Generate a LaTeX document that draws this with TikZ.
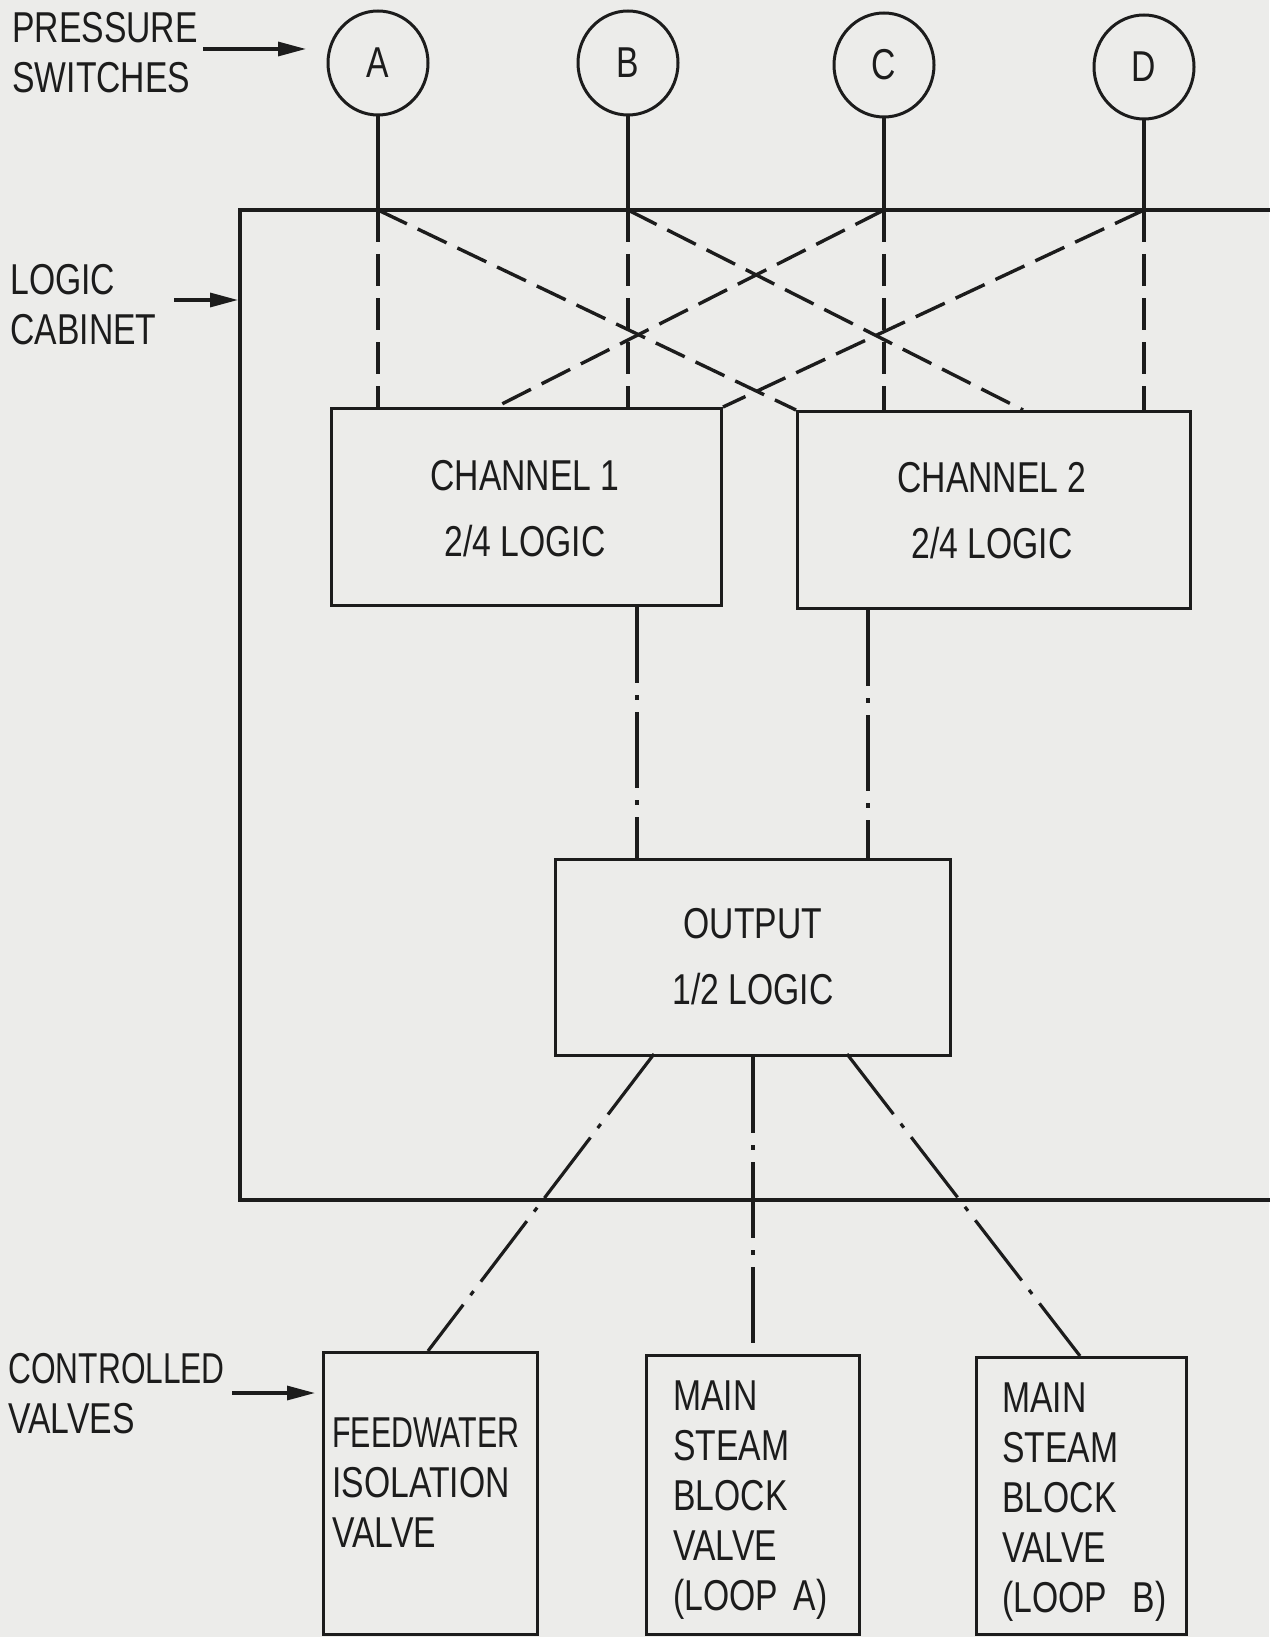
\documentclass[tikz,border=0pt]{standalone}
\usepackage{fontspec}
\usepackage{graphicx}
\usetikzlibrary{shapes.geometric,arrows.meta}
\newfontfamily\lettering[FakeStretch=0.78]{Liberation Sans}
\definecolor{paper}{RGB}{236,236,234}
\definecolor{ink}{RGB}{28,28,28}
\begin{document}
\begin{tikzpicture}[x=0.5pt,y=-0.5pt,
  lbl/.style={inner sep=0pt, text=ink, font=\lettering\fontsize{21.6}{25}\selectfont, align=left, anchor=base west},
  boxtxt/.style={inner sep=0pt, text=ink, font=\lettering\fontsize{21.6}{33}\selectfont, align=center, anchor=base},
  sw/.style={ellipse, draw=ink, line width=1.5pt, minimum width=50pt, minimum height=52pt, inner sep=0pt, font=\lettering\fontsize{21.6}{25}\selectfont, text=ink},
  blk/.style={draw=ink, line width=1.5pt, anchor=north west, inner sep=0pt},
  solidw/.style={draw=ink, line width=1.6pt},
  dsh/.style={draw=ink, line width=1.7pt, dash pattern=on 16pt off 6pt},
  dshdot/.style={draw=ink, line width=1.6pt, dash pattern=on 38pt off 6pt on 2.5pt off 6pt},
  pointer/.style={draw=ink, line width=1.6pt, -{Triangle[length=14pt,width=7pt]}},
]
\fill[paper] (0,0) rectangle (1269,1637);
\useasboundingbox (0,0) rectangle (1269,1637);

% logic cabinet (open to the right)
\draw[solidw] (1275,210) -- (240,210) -- (240,1200) -- (1275,1200);
\coordinate (cabtop) at (0,210);
\coordinate (cabL) at (238,300);

% pressure switches
\node[sw] (A) at (378,63) {A};
\node[sw] (B) at (628,63) {B};
\node[sw] (C) at (884,65) {C};
\node[sw] (D) at (1144,67) {D};

% blocks
\node[blk, minimum width=195pt, minimum height=98.5pt] (ch1) at (330,407) {};
\node[blk, minimum width=196.5pt, minimum height=98.5pt] (ch2) at (796,410) {};
\node[blk, minimum width=197.5pt, minimum height=98pt] (out) at (554,858) {};
\node[blk, minimum width=107pt, minimum height=141pt] (fw) at (322,1351) {};
\node[blk, minimum width=106.5pt, minimum height=139.5pt] (msa) at (645,1354) {};
\node[blk, minimum width=105pt, minimum height=138.5pt] (msb) at (975,1356) {};

% block texts (base anchor = baseline of last line)
\node[boxtxt] (ch1t) at (525,556) {CHANNEL 1\\2/4 LOGIC};
\node[boxtxt] (ch2t) at (992,558) {CHANNEL 2\\2/4 LOGIC};
\node[boxtxt] (outt) at (753,1004) {OUTPUT\\1/2 LOGIC};
\node[lbl] (fwt) at (332,1547) {\scalebox{0.9}[1]{FEEDWATER}\\ISOLATION\\VALVE};
\node[lbl] (msat) at (673,1610) {MAIN\\STEAM\\BLOCK\\VALVE\\(LOOP\hspace{3pt} A)};
\node[lbl] (msbt) at (1002,1612) {MAIN\\STEAM\\BLOCK\\VALVE\\(LOOP\hspace{8pt} B)};

% side labels
\node[lbl] (psw) at (12,93) {PRESSURE\\SWITCHES};
\node[lbl] (lcab) at (10,344) {LOGIC\\CABINET};
\node[lbl] (cval) at (8,1433) {\scalebox{0.94}[1]{CONTROLLED}\\VALVES};

\coordinate (pa1) at (203,49);
\coordinate (pa2) at (306,49);
\coordinate (la1) at (174,300);
\coordinate (ca1) at (232,1393);
\coordinate (ca2) at (315,1393);
\draw[pointer] (pa1) -- (pa2);
\draw[pointer] (la1) -- (cabL);
\draw[pointer] (ca1) -- (ca2);

% switch leads
\foreach \s in {A,B,C,D} {
  \draw[solidw] (\s.south) -- (\s.south |- cabtop);
}
\draw[dsh] (A.south |- cabtop) -- (A.south |- ch1.north);
\draw[dsh] (B.south |- cabtop) -- (B.south |- ch1.north);
\draw[dsh] (C.south |- cabtop) -- (C.south |- ch2.north);
\draw[dsh] (D.south |- cabtop) -- (D.south |- ch2.north);

% cross connections
\coordinate (c1in) at (496,407);
\coordinate (b2in) at (1023,410);
\draw[dsh] (A.south |- cabtop) -- (ch2.north west);
\draw[dsh] (C.south |- cabtop) -- (c1in);
\draw[dsh] (B.south |- cabtop) -- (b2in);
\draw[dsh] (D.south |- cabtop) -- (ch1.north east);

% channels to output
\coordinate (o1) at (637,0);
\coordinate (o2) at (868,0);
\draw[dshdot] (ch1.south -| o1) -- (out.north -| o1);
\draw[dshdot] (ch2.south -| o2) -- (out.north -| o2);

% output to valves
\coordinate (ofw) at (654,1054);
\coordinate (fwin) at (428,1351);
\coordinate (omb) at (847,1054);
\coordinate (mbin) at (1080,1356);
\draw[dshdot] (ofw) -- (fwin);
\draw[dshdot] (out.south) -- (msa.north);
\draw[dshdot] (omb) -- (mbin);
\end{tikzpicture}
\end{document}
